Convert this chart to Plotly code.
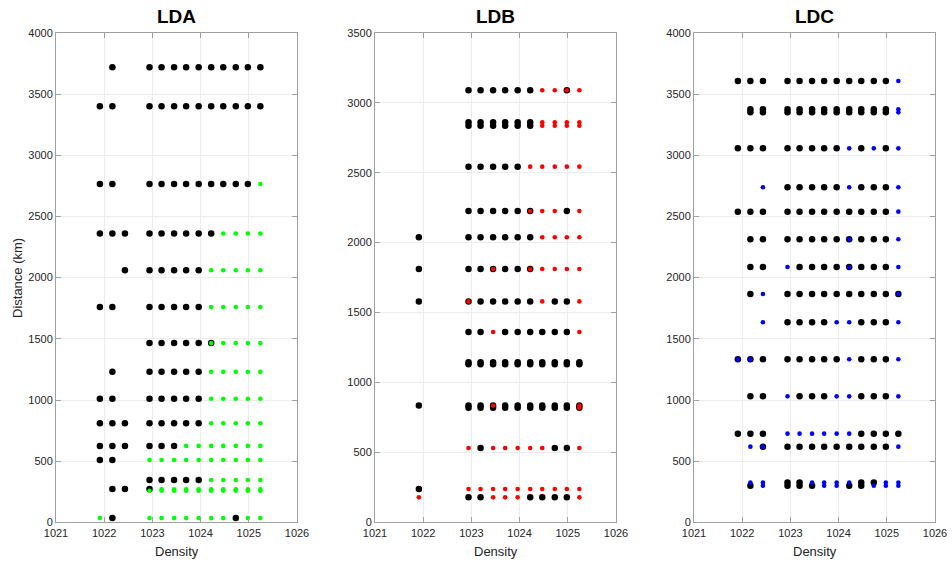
import plotly.graph_objects as go

# Density classes (columns shared by all three panels)
DENSITY = [1021.91, 1022.17, 1022.43, 1022.94, 1023.19, 1023.45, 1023.70,
           1023.96, 1024.22, 1024.47, 1024.73, 1024.98, 1025.24]

# Per-row flags, one character per density column:
#   k = black sample, c = coloured sample, b = both, - = none
LDA_DIST = [3718, 3400, 2765, 2360, 2060, 1760, 1465, 1230, 1010, 810, 625,
            510, 346, 272, 270, 258, 35]
LDA_FLAGS = [
    "-k-kkkkkkkkkk",
    "kk-kkkkkkkkkk",
    "kk-kkkkkkkkkc",
    "kkkkkkkkkcccc",
    "--kkkkkkccccc",
    "kk-kkkkkccccc",
    "---kkkkkbcccc",
    "-k-kkkkkccccc",
    "kk-kkkkkccccc",
    "kkkkkkkkccccc",
    "kkkkkkccccccc",
    "kk-cccccccccc",
    "---kkkkkccccc",
    "-kkk---------",
    "----ccccccccc",
    "---cccccccccc",
    "ck-ccccccckcc",
]

LDB_DIST = [3089, 2860, 2835, 2543, 2226, 2038, 1811, 1580, 1361, 1145, 1130,
            835, 820, 532, 239, 179]
LDB_FLAGS = [
    "---kkkkkkccbc",
    "---kkkkkkcccc",
    "---kkkkkkcccc",
    "---kkkkkccccc",
    "---kkkkkbcckc",
    "k--kkkkkkcccc",
    "k--kkbkkbcccc",
    "k--bkkkkkckkc",
    "---kkckkkkkkc",
    "---kkkkkkkkkk",
    "---kkkkkkkkkk",
    "k--kkbkkkkkkb",
    "---kkkkkkkkkb",
    "---ckccccckkc",
    "k--cccccccccc",
    "c--kkccckkkkc",
]

LDC_DIST = [3606, 3375, 3350, 3056, 2738, 2539, 2313, 2087, 1866, 1635, 1333,
            1030, 725, 619, 325, 300]
LDC_FLAGS = [
    "kkkkkkkkkkkkc",
    "-kkkkkkkkkkkc",
    "-kkkkkkkkkkkc",
    "kkkkkkkkckckc",
    "--ckkkkkckkkc",
    "kkkkkkkkkkkkc",
    "-kkkkkkkbkkkc",
    "-kkckkkkbkkkc",
    "-kckkkkkkkkkb",
    "--ckkkkcckkkc",
    "bbkkkkkkckkkc",
    "-kkckkkcckkkc",
    "kkkcccccckkkk",
    "-cbkkkkkkkkkc",
    "-cckkcccckkcc",
    "-kckkkcckkccc",
]

PANELS = [
    ("LDA", LDA_DIST, LDA_FLAGS, "#00ff00", 4000),
    ("LDB", LDB_DIST, LDB_FLAGS, "#ff0000", 3500),
    ("LDC", LDC_DIST, LDC_FLAGS, "#0000ff", 4000),
]

X_TICKS = [1021, 1022, 1023, 1024, 1025, 1026]

W, H = 952, 565
DOMAINS_X = [(56 / W, 297 / W), (375 / W, 616 / W), (694 / W, 935 / W)]
DOMAIN_Y = ((H - 522.4) / H, (H - 32.8) / H)

FONT = "Liberation Sans, Arial, Helvetica, sans-serif"
TXT = "#262626"
AXC = "#a0a0a0"

fig = go.Figure()

for i, (name, dist, flags, colour, ymax) in enumerate(PANELS):
    xa = "x" if i == 0 else f"x{i + 1}"
    ya = "y" if i == 0 else f"y{i + 1}"
    kx, ky, cx, cy = [], [], [], []
    for d, row in zip(dist, flags):
        for dens, f in zip(DENSITY, row):
            if f in "kb":
                kx.append(dens)
                ky.append(d)
            if f in "cb":
                cx.append(dens)
                cy.append(d)
    fig.add_trace(go.Scatter(x=kx, y=ky, mode="markers", xaxis=xa, yaxis=ya,
                             marker=dict(color="black", size=6.5, line=dict(width=0)),
                             showlegend=False, hoverinfo="skip"))
    fig.add_trace(go.Scatter(x=cx, y=cy, mode="markers", xaxis=xa, yaxis=ya,
                             marker=dict(color=colour, size=4.6, line=dict(width=0)),
                             showlegend=False, hoverinfo="skip"))

    axis_common = dict(
        showline=True, linecolor=AXC, linewidth=1, mirror="ticks",
        ticks="inside", ticklen=5, tickcolor=AXC, tickwidth=1,
        showgrid=True, gridcolor="#ececec", gridwidth=1, zeroline=False,
        tickfont=dict(family=FONT, size=11, color=TXT), automargin=False,
    )
    xkey = "xaxis" if i == 0 else f"xaxis{i + 1}"
    ykey = "yaxis" if i == 0 else f"yaxis{i + 1}"
    fig.update_layout(**{
        xkey: dict(domain=list(DOMAINS_X[i]), anchor=ya, range=[1021, 1026],
                   tickvals=X_TICKS, ticktext=[str(t) for t in X_TICKS],
                   **axis_common),
        ykey: dict(domain=list(DOMAIN_Y), anchor=xa, range=[0, ymax],
                   tickvals=list(range(0, ymax + 1, 500)),
                   **axis_common),
    })
    cxp = (DOMAINS_X[i][0] + DOMAINS_X[i][1]) / 2
    fig.add_annotation(text=f"<b>{name}</b>", x=cxp, y=(H - 17) / H,
                       xref="paper", yref="paper", showarrow=False,
                       font=dict(family=FONT, size=19, color="black"),
                       xanchor="center", yanchor="middle")
    fig.add_annotation(text="Density", x=cxp, y=(H - 551) / H,
                       xref="paper", yref="paper", showarrow=False,
                       font=dict(family=FONT, size=13, color=TXT),
                       xanchor="center", yanchor="middle")

fig.add_annotation(text="Distance (km)", x=17 / W, y=(H - 278) / H,
                   xref="paper", yref="paper", showarrow=False, textangle=-90,
                   font=dict(family=FONT, size=13, color=TXT),
                   xanchor="center", yanchor="middle")

fig.update_layout(
    width=W, height=H,
    margin=dict(l=0, r=0, t=0, b=0, autoexpand=False),
    paper_bgcolor="white", plot_bgcolor="white",
)

fig.write_html("out.html")
